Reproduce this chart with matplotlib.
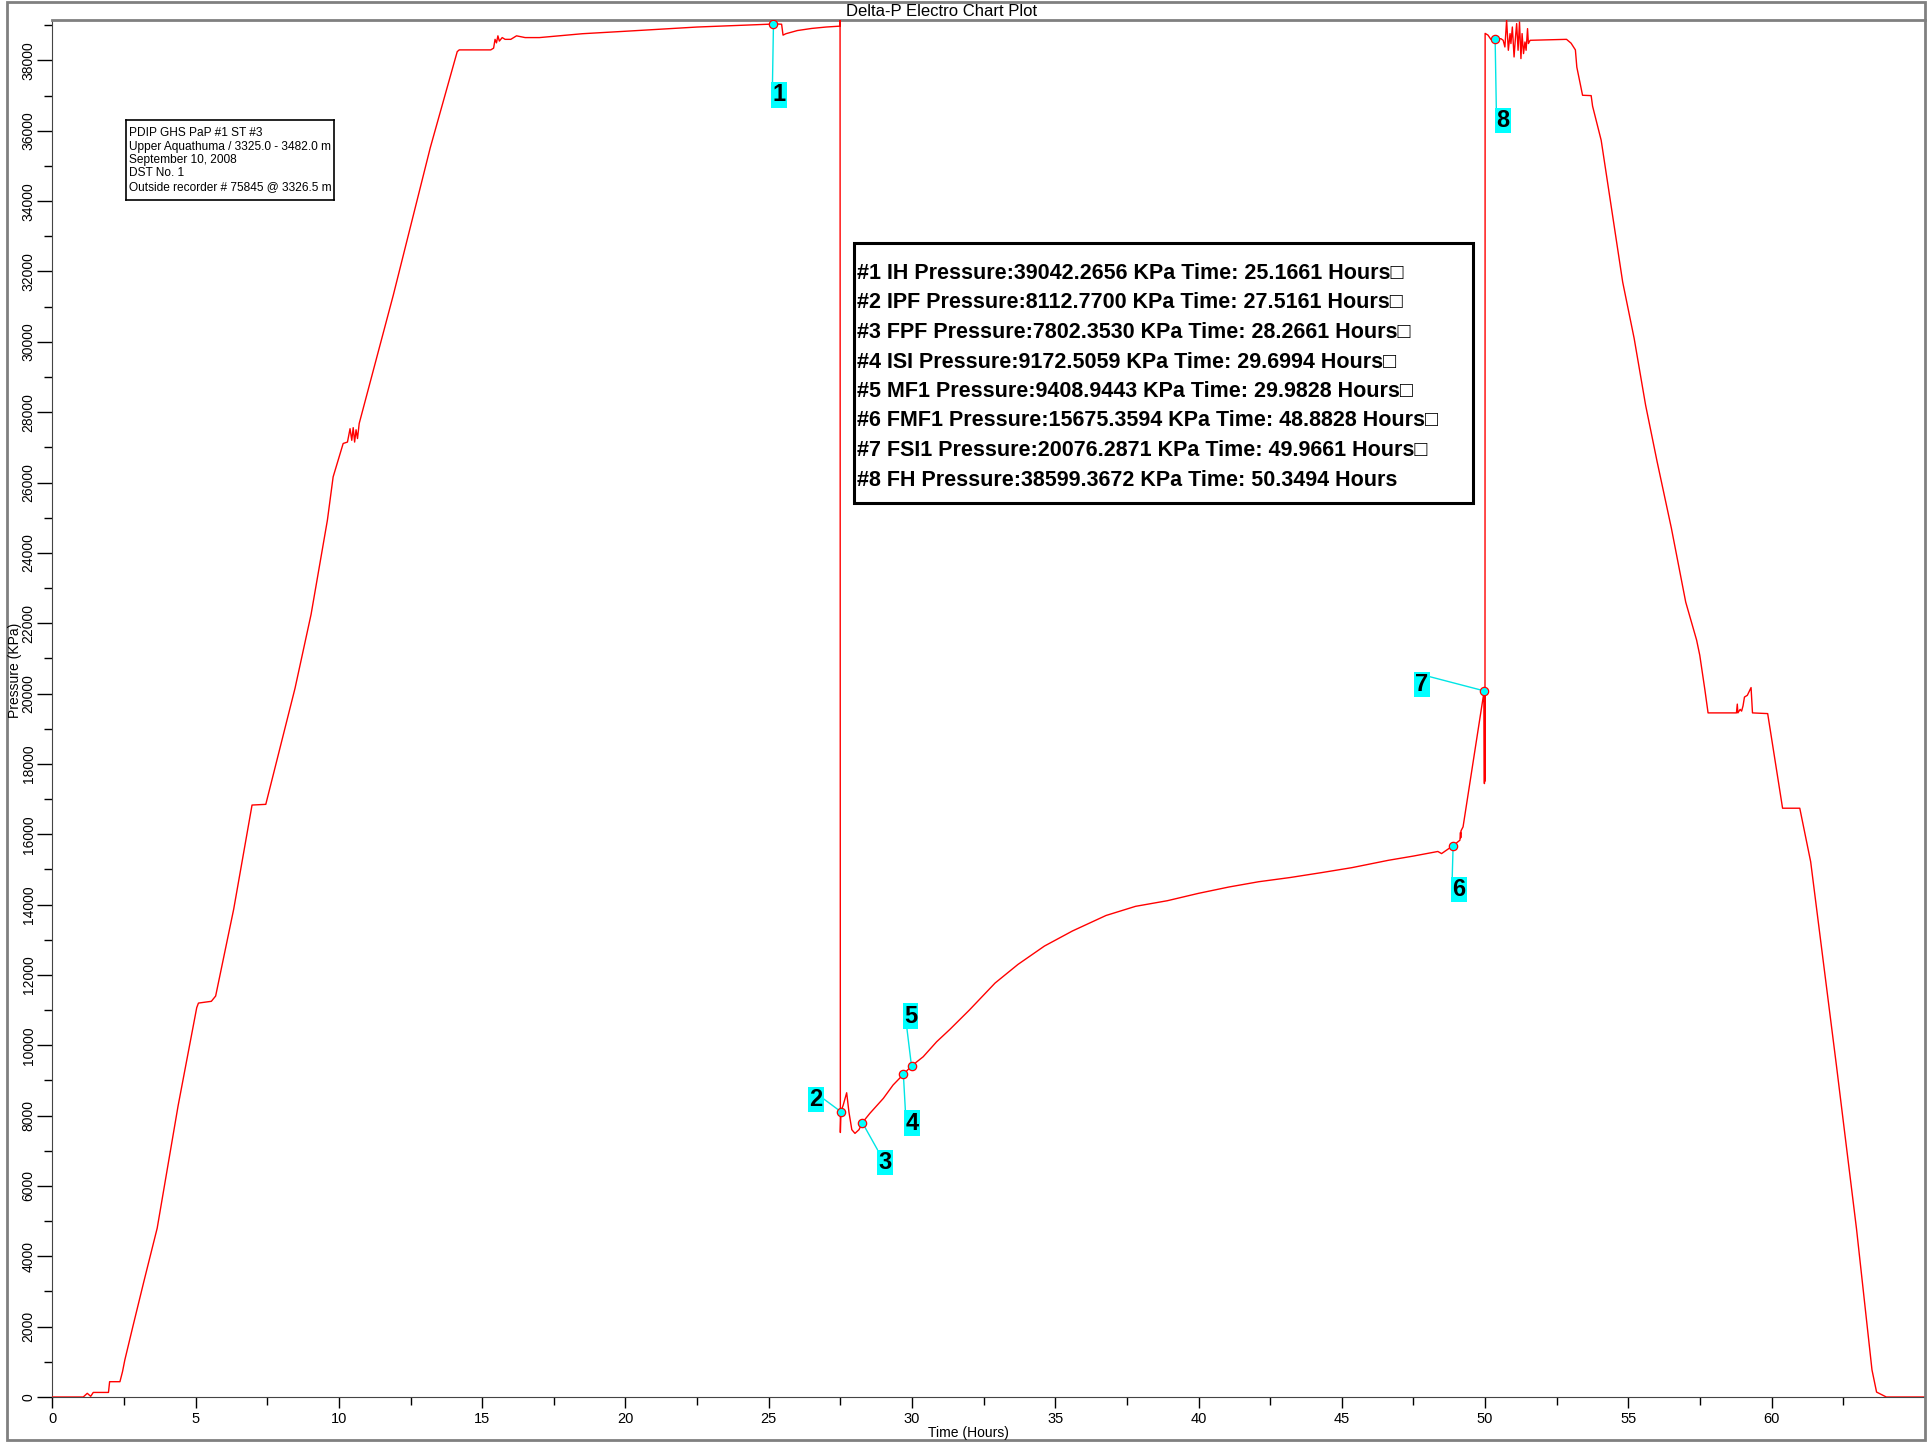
import matplotlib.pyplot as plt
from matplotlib.patches import Rectangle

plt.rcParams['font.family'] = ['Liberation Sans', 'DejaVu Sans']

# gauge record (hours, KPa)
time_h = [0.0, 1.08, 1.22, 1.34, 1.43, 1.96, 2.0, 2.36, 2.45, 2.53, 2.81, 3.2, 3.66, 4.39, 5.04,
          5.1, 5.55, 5.7, 6.33, 6.97, 7.45, 8.04, 8.47, 9.03, 9.4, 9.6, 9.8, 10.15, 10.3,
          10.39, 10.45, 10.5, 10.55, 10.6, 10.65, 10.71, 11.11, 11.9, 13.19, 14.13, 14.2, 15.3,
          15.4, 15.45, 15.5, 15.55, 15.6, 15.7, 15.8, 16.0, 16.2, 16.5, 17.0, 18.5, 20.0, 22.5,
          25.0, 25.17, 25.45, 25.5, 25.6, 26.0, 26.5, 27.0, 27.48, 27.49, 27.5, 27.52, 27.6,
          27.72, 27.8, 27.9, 28.01, 28.15, 28.27, 28.53, 29.0, 29.34, 29.7, 29.98, 30.39, 30.86,
          31.32, 32.0, 32.9, 33.7, 34.62, 35.6, 36.77, 37.8, 38.91, 40.0, 41.06, 42.1, 43.2,
          44.3, 45.35, 46.63, 47.5, 48.35, 48.48, 48.88, 49.12, 49.14, 49.15, 49.16, 49.23,
          49.966, 49.975, 49.98, 49.985, 49.99, 49.995, 50.0, 50.1, 50.2, 50.35, 50.55, 50.63,
          50.69, 50.75, 50.81, 50.87, 50.9, 50.95, 51.01, 51.06, 51.1, 51.15, 51.2, 51.25,
          51.29, 51.34, 51.39, 51.43, 51.48, 51.51, 51.57, 52.84, 53.0, 53.15, 53.2, 53.4,
          53.7, 53.75, 54.05, 54.8, 55.2, 55.6, 56.0, 56.5, 57.0, 57.38, 57.49, 57.67, 57.78,
          58.77, 58.8, 58.82, 58.9, 58.95, 59.0, 59.05, 59.15, 59.28, 59.33, 59.86, 59.93,
          60.23, 60.38, 60.98, 61.36, 62.26, 62.96, 63.5, 63.66, 64.0, 65.35]
pressure_kpa = [0, 0, 105, 20, 130, 130, 435, 435, 720, 1050, 2000, 3300, 4800, 8280, 11070,
                11200, 11250, 11400, 13870, 16830, 16850, 18760, 20150, 22250, 24000, 24930,
                26160, 27110, 27150, 27530, 27200, 27560, 27150, 27500, 27250, 27680, 28910,
                31330, 35520, 38250, 38300, 38300, 38350, 38600, 38500, 38700, 38550, 38650,
                38600, 38600, 38700, 38650, 38650, 38760, 38830, 38950, 39030, 39042, 39030,
                38720, 38760, 38850, 38910, 38950, 38975, 39140, 7520, 8112, 8300, 8650, 8100,
                7600, 7495, 7600, 7802, 8065, 8490, 8870, 9172, 9409, 9673, 10100, 10450, 11000,
                11770, 12300, 12820, 13250, 13690, 13950, 14110, 14320, 14500, 14650, 14770,
                14910, 15050, 15260, 15380, 15510, 15450, 15675, 15830, 16050, 15900, 16100,
                16210, 20076, 17440, 20100, 17500, 20000, 17600, 38770, 38720, 38600, 38599,
                38620, 38573, 38383, 39142, 38289, 38763, 38480, 38951, 38099, 38667, 39048,
                38289, 39094, 38053, 38763, 38195, 38525, 38289, 38905, 38480, 38573, 38600,
                38490, 38300, 37810, 37010, 37000, 36700, 35730, 31700, 30100, 28200, 26600,
                24700, 22600, 21520, 21090, 20100, 19450, 19450, 19700, 19450, 19550, 19500,
                19650, 19900, 19950, 20170, 19450, 19430, 19070, 17540, 16740, 16740, 15220,
                9420, 4780, 770, 140, 0, 0]

event_codes = ['IH', 'IPF', 'FPF', 'ISI', 'MF1', 'FMF1', 'FSI1', 'FH']
event_time = [25.1661, 27.5161, 28.2661, 29.6994, 29.9828, 48.8828, 49.9661, 50.3494]
event_pressure = [39042.2656, 8112.7700, 7802.3530, 9172.5059, 9408.9443,
                  15675.3594, 20076.2871, 38599.3672]

# where the numbered tags sit
tag_x = [25.36, 26.65, 29.05, 30.0, 29.95, 49.08, 47.79, 50.62]
tag_y = [37020, 8450, 6670, 7790, 10830, 14430, 20260, 36290]

info_lines = ['PDIP GHS PaP #1 ST #3',
              'Upper Aquathuma / 3325.0 - 3482.0 m',
              'September 10, 2008',
              'DST No. 1',
              'Outside recorder # 75845 @ 3326.5 m']

W, H = 1927, 1442
fig = plt.figure(figsize=(W / 100, H / 100), dpi=100)
ax = fig.add_axes([52.3 / W, (H - 1397) / H, (1925 - 52.3) / W, (1397 - 20) / H])

ax.plot(time_h, pressure_kpa, color='red', lw=1.0, zorder=3)
ax.set_xlim(0, 65.35)
ax.set_ylim(0, 39150)

for i in range(len(event_time)):
    ax.annotate(str(i + 1), xy=(event_time[i], event_pressure[i]), xytext=(tag_x[i], tag_y[i]),
                ha='center', va='center', fontsize=17, fontweight='bold', color='black',
                bbox=dict(boxstyle='square,pad=0.05', fc='#00FFFF', ec='none'),
                arrowprops=dict(arrowstyle='-', color='#00E5E5', lw=1.0, shrinkA=0, shrinkB=0,
                                relpos=(0, 1)),
                zorder=5)
ax.plot(event_time, event_pressure, 'o', mfc='#00FFFF', mec='red', ms=6, mew=0.9, zorder=6)

ax.set_xticks(range(0, 65, 5))
ax.set_xticks([x + 2.5 for x in range(0, 65, 5)], minor=True)
ax.set_yticks(range(0, 39001, 2000))
ax.set_yticks(range(1000, 39001, 2000), minor=True)
ax.tick_params(axis='x', which='major', length=8, width=1, labelsize=10.5, pad=3)
ax.tick_params(axis='x', which='minor', length=5.5, width=1)
ax.tick_params(axis='y', which='major', length=11, width=1, labelsize=10, pad=1)
ax.tick_params(axis='y', which='minor', length=6, width=1)
for lab in ax.get_yticklabels():
    lab.set_rotation(90)
    lab.set_va('center')
for side in ['left', 'bottom']:
    ax.spines[side].set_color('#444444')
ax.spines['top'].set_color('#808080')
ax.spines['top'].set_linewidth(2)
ax.spines['right'].set_color('#808080')

# outer frame and header band
fig.add_artist(Rectangle((7 / W, 2 / H), (1925 - 7) / W, (1440 - 2) / H, transform=fig.transFigure,
                         fill=False, ec='#808080', lw=2))
fig.text(942 / W, 1 - 11 / H, 'Delta-P Electro Chart Plot', ha='center', va='center', fontsize=12)
fig.text(15 / W, 1 - 670 / H, 'Pressure (KPa)', rotation=90, ha='center', va='center', fontsize=10)
fig.text(968 / W, 1 - 1433 / H, 'Time (Hours)', ha='center', va='center', fontsize=10)

# well info box
ax2 = fig.add_axes([126 / W, 1 - 200 / H, 208 / W, 80 / H])
ax2.set_xticks([])
ax2.set_yticks([])
for s in ax2.spines.values():
    s.set_linewidth(1.2)
for j, line in enumerate(info_lines):
    ax2.text(3 / 208, 1 - (13.3 + 13.4 * j) / 80, line, transform=ax2.transAxes, va='center',
             ha='left', fontsize=8.55, clip_on=True)

# event summary box
fig.add_artist(Rectangle((854 / W, 1 - 503 / H), 619 / W, 260 / H, transform=fig.transFigure,
                         fill=False, ec='black', lw=2.2))
for i in range(len(event_time)):
    s = f'#{i + 1} {event_codes[i]} Pressure:{event_pressure[i]:.4f} KPa Time: {event_time[i]:.4f} Hours'
    if i < len(event_time) - 1:
        s += '\u25a1'
    fig.text(857 / W, 1 - (273.5 + 29.5 * i) / H, s, ha='left', va='center', fontsize=15.5,
             fontweight='bold')

fig.savefig('out.png', dpi=100)
